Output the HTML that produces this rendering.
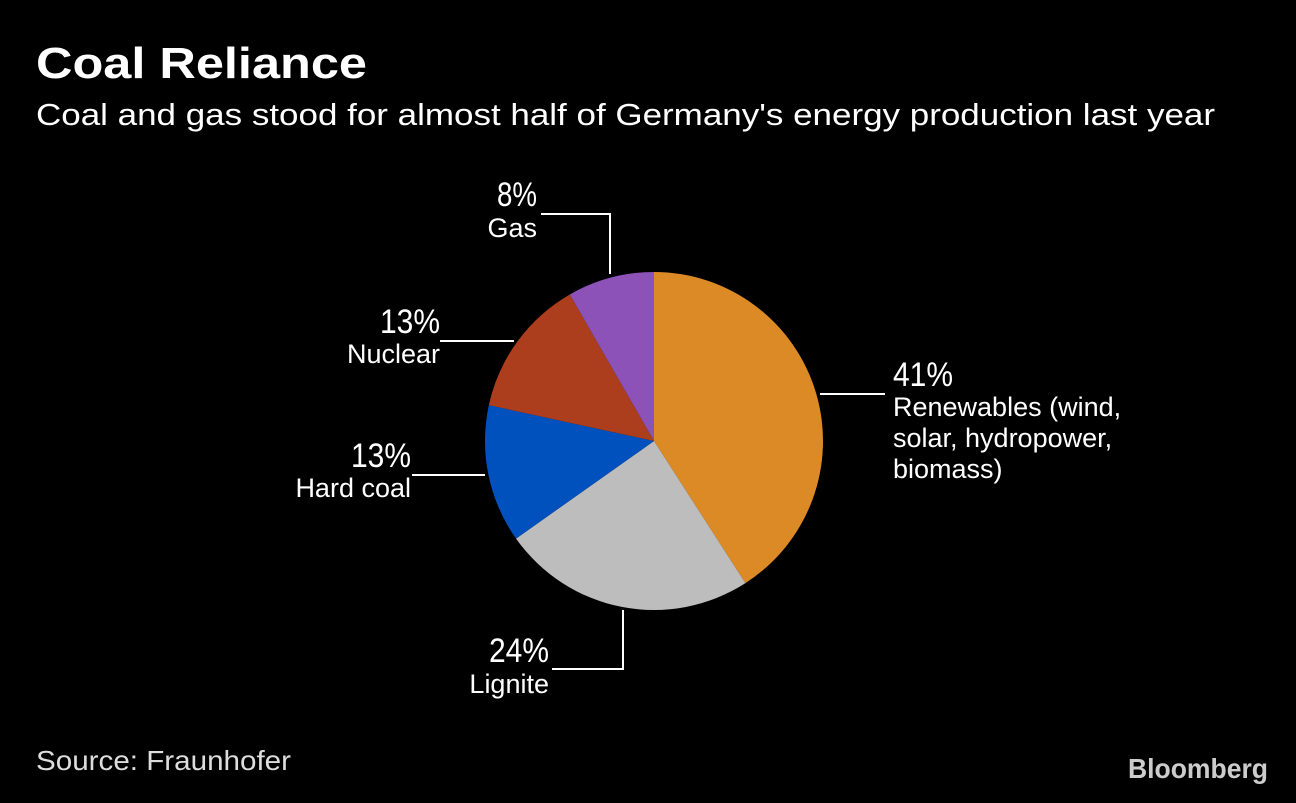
<!DOCTYPE html>
<html><head><meta charset="utf-8">
<style>
html,body{margin:0;padding:0;background:#000;}
body{width:1296px;height:798px;overflow:hidden;font-family:"Liberation Sans",sans-serif;}
</style></head>
<body>
<svg width="1296" height="798" viewBox="0 0 1296 798" xmlns="http://www.w3.org/2000/svg">
<rect width="1296" height="798" fill="#000"/>
<text x="36" y="78" fill="#fff" font-size="44" font-weight="bold" textLength="331" lengthAdjust="spacingAndGlyphs">Coal Reliance</text>
<text x="36" y="125" fill="#fff" font-size="31" textLength="1179" lengthAdjust="spacingAndGlyphs">Coal and gas stood for almost half of Germany's energy production last year</text>
<g id="pie"></g>
<g id="labels" fill="#fff"></g>
<text x="36" y="770" fill="#ddd" font-size="28" textLength="255" lengthAdjust="spacingAndGlyphs">Source: Fraunhofer</text>
<text x="1268" y="778" fill="#ccc" font-size="28" font-weight="bold" text-anchor="end" textLength="140" lengthAdjust="spacingAndGlyphs">Bloomberg</text>
</svg>
<script>
const categories = ["Renewables", "Lignite", "Hard coal", "Nuclear", "Gas"];
const values = [40.9, 24.3, 13.2, 13.3, 8.3];
const colors = ["#dc8a25", "#bdbdbd", "#0051bd", "#ad3e1d", "#8c52b8"];
const names = [["Renewables (wind,","solar, hydropower,","biomass)"],["Lignite"],["Hard coal"],["Nuclear"],["Gas"]];
const NS="http://www.w3.org/2000/svg";
const cx=654, cy=441, r=169;
const total=values.reduce((a,b)=>a+b,0);
function pt(frac,rad){const a=frac*2*Math.PI;return [cx+rad*Math.sin(a), cy-rad*Math.cos(a)];}
const pie=document.getElementById('pie');
let acc=0;
values.forEach((v,i)=>{
  const f0=acc/total, f1=(acc+v)/total; acc+=v;
  const [x0,y0]=pt(f0,r),[x1,y1]=pt(f1,r);
  const large=(f1-f0)>0.5?1:0;
  const p=document.createElementNS(NS,'path');
  p.setAttribute('d',`M${cx},${cy}L${x0},${y0}A${r},${r} 0 ${large} 1 ${x1},${y1}Z`);
  p.setAttribute('fill',colors[i]);
  
  
  pie.appendChild(p);
});
const lab=document.getElementById('labels');
function line(d){const p=document.createElementNS(NS,'path');p.setAttribute('d',d);p.setAttribute('stroke','#fff');p.setAttribute('stroke-width','2');p.setAttribute('fill','none');


lab.appendChild(p);}
function txt(x,y,s,size,anchor,len){const t=document.createElementNS(NS,'text');t.setAttribute('x',x);t.setAttribute('y',y);t.setAttribute('font-size',size);t.setAttribute('text-anchor',anchor);t.setAttribute('fill','#fff');
if(len){t.setAttribute('textLength',len);t.setAttribute('lengthAdjust','spacingAndGlyphs');}
t.textContent=s;


lab.appendChild(t);}
function pctLen(s){return s.length>2?60:40;}
function pct(v){return Math.round(v)+'%';}
// Renewables
line('M820,394H885');
txt(893,386,pct(values[0]),34,'start',pctLen(pct(values[0])));
names[0].forEach((s,k)=>txt(893,416+k*31,s,27,'start'));
// Lignite
line('M623,610V669H552');
txt(549,662,pct(values[1]),34,'end',pctLen(pct(values[1])));
txt(549,693,names[1][0],27,'end');
// Hard coal
line('M485,475H412');
txt(411,467,pct(values[2]),34,'end',pctLen(pct(values[2])));
txt(411,497,names[2][0],27,'end');
// Nuclear
line('M514,341H440');
txt(440,333,pct(values[3]),34,'end',pctLen(pct(values[3])));
txt(440,363,names[3][0],27,'end');
// Gas
line('M610,274V214H541');
txt(537,206,pct(values[4]),34,'end',pctLen(pct(values[4])));
txt(537,237,names[4][0],27,'end');
</script>
</body></html>
